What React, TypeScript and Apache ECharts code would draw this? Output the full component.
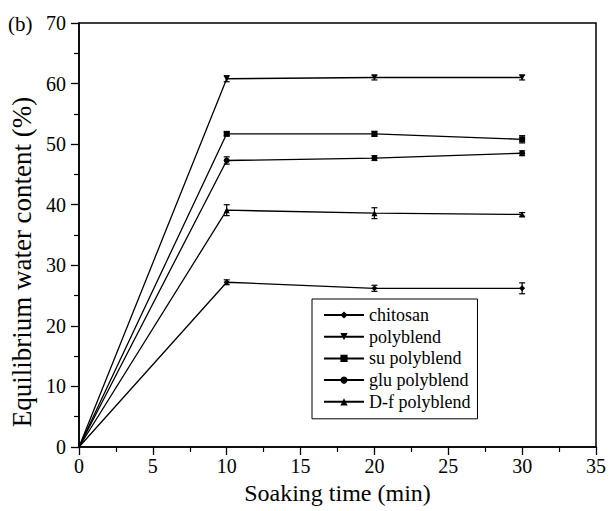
import React, { useEffect, useRef } from "react";
import * as echarts from "echarts";

const times = [0, 10, 20, 30];
const seriesNames = ["chitosan", "polyblend", "su polyblend", "glu polyblend", "D-f polyblend"];
const seriesSymbols = ["diamond", "triangle", "rect", "circle", "triangle"];
const seriesRotate = [0, 180, 0, 0, 0];
const chitosan = [0, 27.2, 26.2, 26.2];
const polyblend = [0, 60.8, 61.0, 61.0];
const suPolyblend = [0, 51.7, 51.7, 50.8];
const gluPolyblend = [0, 47.3, 47.7, 48.5];
const dfPolyblend = [0, 39.1, 38.6, 38.4];
const chitosanErr = [0, 0.4, 0.5, 0.9];
const polyblendErr = [0, 0.5, 0.4, 0.4];
const suPolyblendErr = [0, 0.3, 0.4, 0.6];
const gluPolyblendErr = [0, 0.6, 0.4, 0.4];
const dfPolyblendErr = [0, 0.9, 0.9, 0.3];
const xTicks = [0, 5, 10, 15, 20, 25, 30, 35];
const yTicks = [0, 10, 20, 30, 40, 50, 60, 70];

const allValues = [chitosan, polyblend, suPolyblend, gluPolyblend, dfPolyblend];
const allErrs = [chitosanErr, polyblendErr, suPolyblendErr, gluPolyblendErr, dfPolyblendErr];

const FONT = "Liberation Serif";

export default function App() {
  const ref = useRef<HTMLDivElement>(null);
  useEffect(() => {
    if (!ref.current) return;
    const chart = echarts.init(ref.current, undefined, { renderer: "svg" });

    const lineSeries = seriesNames.map((name, i) => ({
      name,
      type: "line",
      symbol: seriesSymbols[i],
      symbolRotate: seriesRotate[i],
      symbolSize: 6,
      showSymbol: true,
      color: "#000",
      lineStyle: { color: "#000", width: 1.3 },
      itemStyle: { color: "#000" },
      z: 3,
      data: times.map((t, j) =>
        j === 0 ? { value: [t, allValues[i][j]], symbol: "none" } : { value: [t, allValues[i][j]] }
      ),
    }));

    const errSeries = seriesNames.map((name, i) => ({
      name: name + " err",
      type: "custom",
      z: 4,
      silent: true,
      encode: { x: 0, y: 1 },
      data: times
        .map((t, j) => [t, allValues[i][j], allErrs[i][j]])
        .filter((d) => d[2] > 0),
      renderItem: (params: any, api: any) => {
        const x = api.value(0);
        const y = api.value(1);
        const e = api.value(2);
        const top = api.coord([x, y + e]);
        const bot = api.coord([x, y - e]);
        const w = 3;
        const style = { stroke: "#000", lineWidth: 1.2 };
        return {
          type: "group",
          children: [
            { type: "line", shape: { x1: top[0], y1: top[1], x2: bot[0], y2: bot[1] }, style },
            { type: "line", shape: { x1: top[0] - w, y1: top[1], x2: top[0] + w, y2: top[1] }, style },
            { type: "line", shape: { x1: bot[0] - w, y1: bot[1], x2: bot[0] + w, y2: bot[1] }, style },
          ],
        };
      },
    }));

    chart.setOption({
      animation: false,
      backgroundColor: "#fff",
      textStyle: { fontFamily: FONT, color: "#000" },
      grid: {
        left: 79,
        right: 10,
        top: 23,
        bottom: 64,
        show: true,
        borderColor: "#000",
        borderWidth: 1.5,
        containLabel: false,
      },
      legend: {
        data: seriesNames,
        orient: "vertical",
        left: 312,
        top: 299,
        padding: [7, 7, 8, 11],
        itemGap: 3.7,
        itemWidth: 40,
        itemHeight: 9,
        borderColor: "#000",
        borderWidth: 1,
        backgroundColor: "#fff",
        textStyle: { fontFamily: FONT, fontSize: 18, color: "#000", lineHeight: 18 },
      },
      xAxis: {
        type: "value",
        min: 0,
        max: 35,
        interval: 5,
        name: "Soaking time (min)",
        nameLocation: "middle",
        nameGap: 29,
        nameTextStyle: { fontFamily: FONT, fontSize: 24, color: "#000" },
        axisLine: { show: true, lineStyle: { color: "#000", width: 1.5 } },
        axisTick: { show: true, length: 8, lineStyle: { color: "#000", width: 1.3 } },
        minorTick: { show: true, splitNumber: 2, length: 5, lineStyle: { color: "#000", width: 1.2 } },
        splitLine: { show: false },
        axisLabel: {
          margin: 9,
          fontFamily: FONT,
          fontSize: 20,
          color: "#000",
          formatter: (v: number) => (xTicks.includes(v) ? String(v) : ""),
        },
      },
      yAxis: {
        type: "value",
        min: 0,
        max: 70,
        interval: 10,
        axisLine: { show: true, lineStyle: { color: "#000", width: 1.5 } },
        axisTick: { show: true, length: 8, lineStyle: { color: "#000", width: 1.3 } },
        minorTick: { show: true, splitNumber: 2, length: 5, lineStyle: { color: "#000", width: 1.2 } },
        splitLine: { show: false },
        axisLabel: {
          margin: 13,
          fontFamily: FONT,
          fontSize: 20,
          color: "#000",
          formatter: (v: number) => (yTicks.includes(v) ? String(v) : ""),
        },
      },
      graphic: [
        {
          type: "text",
          left: 8,
          top: 13,
          style: { text: "(b)", fontFamily: FONT, fontSize: 21, fill: "#000" },
        },
        {
          type: "text",
          x: 22,
          y: 262,
          rotation: Math.PI / 2,
          style: {
            text: "Equilibrium water content (%)",
            fontFamily: FONT,
            fontSize: 27,
            fill: "#000",
            align: "center",
            verticalAlign: "middle",
          },
        },
      ],
      series: [...lineSeries, ...errSeries],
    });
    return () => chart.dispose();
  }, []);
  return <div ref={ref} style={{ width: 609, height: 511, position: "absolute", left: 0, top: 0 }} />;
}
